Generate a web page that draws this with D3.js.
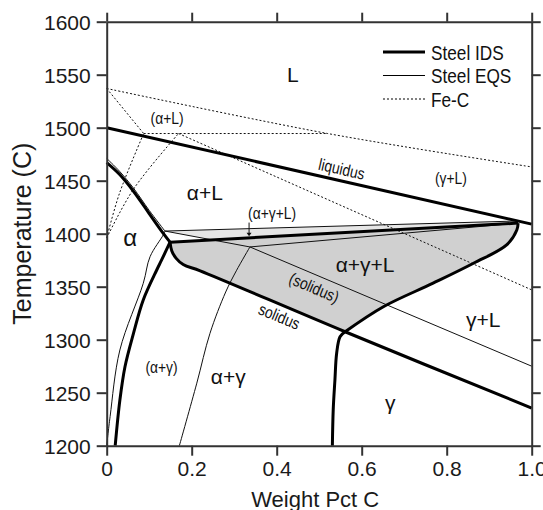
<!DOCTYPE html>
<html><head><meta charset="utf-8">
<script src="https://cdn.jsdelivr.net/npm/d3@7"></script>
<style>
html,body{margin:0;padding:0;background:#fff;}
svg{display:block;font-family:"Liberation Sans",Arial,Helvetica,sans-serif;}
</style></head>
<body>
<svg id="chart" width="543" height="510"></svg>
<script>
// ---- axis ticks ----
const xTicks = [0, 0.2, 0.4, 0.6, 0.8, 1.0];
const xTickLabels = ["0", "0.2", "0.4", "0.6", "0.8", "1.0"];
const yTicks = [1200, 1250, 1300, 1350, 1400, 1450, 1500, 1550, 1600];

// ---- Steel IDS (thick) [wt% C, temperature C] ----
const idsLiquidus = [[0, 1500], [1.0, 1409]];
const idsAlphaSolidus = [[0, 1467], [0.03, 1456], [0.063, 1440], [0.1, 1419], [0.13, 1402], [0.149, 1392]];
const idsAlphaBoundary = [[0.149, 1392], [0.129, 1375], [0.118, 1366], [0.086, 1337.5], [0.063, 1306], [0.043, 1274.5], [0.031, 1243], [0.02, 1200]];
const idsPeritectic = [[0.149, 1392], [0.968, 1410]];
const idsGammaLiquidus = [[0.968, 1410], [0.965, 1403.5], [0.941, 1389.4], [0.863, 1372.1], [0.768, 1353.3], [0.651, 1331.1], [0.561, 1307.5]];
const idsSolidus = [[0.149, 1392], [0.153, 1384], [0.163, 1377], [0.18, 1371], [0.22, 1365], [0.561, 1307.5], [1.0, 1235.5]];
const idsGammaBoundary = [[0.561, 1307.5], [0.549, 1302.8], [0.541, 1287], [0.537, 1262], [0.533, 1234], [0.531, 1200]];

// ---- Steel EQS (thin) ----
const eqsAlphaSolidus = [[0, 1471], [0.03, 1459], [0.063, 1443], [0.1, 1422], [0.137, 1402.5]];
const eqsPeritectic = [[0.137, 1402.5], [0.968, 1412]];
const eqsLower = [[0.137, 1402.5], [0.337, 1387.5], [0.968, 1410]];
const eqsAlphaBoundary = [[0.137, 1402.5], [0.133, 1398.8], [0.102, 1378.3], [0.086, 1353.2], [0.031, 1290.3], [0.008, 1227.4], [0, 1200]];
const eqsSolidus = [[0.337, 1387.5], [1.0, 1275]];
const eqsGammaBoundary = [[0.337, 1387.5], [0.305, 1365], [0.28, 1345], [0.243, 1306], [0.212, 1259], [0.171, 1200]];

// ---- Fe-C (dotted) ----
const fecLiquidus = [[0, 1537], [0.52, 1494.5], [1.0, 1463]];
const fecDeltaSolidus = [[0, 1537], [0.087, 1494.5]];
const fecPeritectic = [[0.087, 1494.5], [0.52, 1494.5]];
const fecDeltaBoundary = [[0, 1396], [0.03, 1438], [0.087, 1494.5]];
const fecGammaBoundary = [[0, 1396], [0.063, 1442], [0.169, 1494.5]];
const fecGammaSolidus = [[0.169, 1494.5], [1.0, 1347]];

// ---- region labels ----
const labelText = ["L", "(α+L)", "α+L", "(α+γ+L)", "α", "liquidus", "(γ+L)", "α+γ+L", "(solidus)", "solidus", "γ+L", "(α+γ)", "α+γ", "γ"];
const labelC    = [0.438, 0.142, 0.231, 0.389, 0.055, 0.553, 0.810, 0.608, 0.488, 0.406, 0.886, 0.129, 0.286, 0.667];
const labelT    = [1549.7, 1509, 1438.4, 1419.5, 1396, 1461, 1452.6, 1370.5, 1349, 1322, 1318.6, 1274.5, 1265, 1240.3];
const labelKind = ["big", "small", "big", "small", "big", "small", "small", "big", "small", "small", "big", "small", "big", "big"];
const labelAngle = [0, 0, 0, 0, 0, 12.8, 0, 0, 23.1, 22.5, 0, 0, 0, 0];

const legendNames = ["Steel IDS", "Steel EQS", "Fe-C"];

// ---- layout ----
const margin = {left: 106.7, top: 21.7, right: 11.3, bottom: 64.3};
const W = 543, H = 510;
const iw = W - margin.left - margin.right, ih = H - margin.top - margin.bottom;

const svg = d3.select("#chart");
const g = svg.append("g").attr("transform", `translate(${margin.left},${margin.top})`);

const x = d3.scaleLinear().domain([0, 1.0]).range([0, iw]);
const y = d3.scaleLinear().domain([1200, 1600]).range([ih, 0]);

const line = d3.line().x(d => x(d[0])).y(d => y(d[1])).curve(d3.curveCatmullRom.alpha(0.5));
const lineLin = d3.line().x(d => x(d[0])).y(d => y(d[1]));

// fills
const eqsRegion = [eqsPeritectic[0], eqsPeritectic[1], eqsLower[2], eqsLower[1]];
g.append("path").attr("d", lineLin(eqsRegion) + "Z").attr("fill", "#e6e6e6");

const idsFillPath = line(idsPeritectic) + line(idsGammaLiquidus).replace(/^M/, "L") + line(idsSolidus.slice().reverse()).replace(/^M/, "L") + "Z";
g.append("path").attr("d", idsFillPath).attr("fill", "#d0d0d0");

// Fe-C dotted
const dotted = [fecLiquidus, fecDeltaSolidus, fecPeritectic, fecDeltaBoundary, fecGammaBoundary, fecGammaSolidus];
g.selectAll(".fec").data(dotted).join("path").attr("class", "fec")
  .attr("d", line).attr("fill", "none").attr("stroke", "#111").attr("stroke-width", 1)
  .attr("stroke-dasharray", "2,2");

// EQS thin
const thin = [eqsAlphaSolidus, eqsPeritectic, eqsLower, eqsAlphaBoundary, eqsSolidus, eqsGammaBoundary];
g.selectAll(".eqs").data(thin).join("path").attr("class", "eqs")
  .attr("d", d => d === eqsLower ? lineLin(d) : line(d)).attr("fill", "none").attr("stroke", "#111").attr("stroke-width", 1);

// IDS thick
const thick = [idsLiquidus, idsAlphaSolidus, idsAlphaBoundary, idsPeritectic, idsGammaLiquidus, idsSolidus, idsGammaBoundary];
g.selectAll(".ids").data(thick).join("path").attr("class", "ids")
  .attr("d", line).attr("fill", "none").attr("stroke", "#000").attr("stroke-width", 3)
  .attr("stroke-linejoin", "round").attr("stroke-linecap", "butt");

// axes
const axisColor = "#333";
function styleAxis(sel) {
  sel.select(".domain").attr("stroke", axisColor).attr("stroke-width", 2);
  sel.selectAll(".tick line").attr("stroke", axisColor).attr("stroke-width", 2);
  sel.selectAll(".tick text").attr("fill", "#1a1a1a").attr("font-size", 21)
     .attr("font-family", "'Liberation Sans',Arial,sans-serif");
}
const xAxis = g.append("g").attr("transform", `translate(0,${ih})`)
  .call(d3.axisBottom(x).tickValues(xTicks).tickFormat((d, i) => xTickLabels[i]).tickSize(10).tickSizeOuter(0).tickPadding(5));
styleAxis(xAxis);
const xTop = g.append("g")
  .call(d3.axisTop(x).tickValues(xTicks).tickFormat("").tickSize(9).tickSizeOuter(0));
styleAxis(xTop);
const yAxis = g.append("g")
  .call(d3.axisLeft(y).tickValues(yTicks).tickFormat(d3.format("d")).tickSize(10).tickSizeOuter(0).tickPadding(6));
styleAxis(yAxis);
yAxis.selectAll(".tick text").attr("dy", "0.36em");
const yRight = g.append("g").attr("transform", `translate(${iw},0)`)
  .call(d3.axisRight(y).tickValues(yTicks).tickFormat("").tickSize(9).tickSizeOuter(0));
styleAxis(yRight);

// axis titles
svg.append("text").attr("x", margin.left + iw / 2 - 4).attr("y", 507)
  .attr("text-anchor", "middle").attr("font-size", 22).attr("fill", "#1a1a1a").text("Weight Pct C");
svg.append("text").attr("transform", `translate(31,${margin.top + ih / 2}) rotate(-90)`)
  .attr("text-anchor", "middle").attr("font-size", 25).attr("fill", "#1a1a1a").text("Temperature (C)");

// labels
labelText.forEach((t, i) => {
  const px = x(labelC[i]), py = y(labelT[i]);
  const big = labelKind[i] === "big";
  const sx = big ? 1 : 0.84;
  const fs = big ? (t === "α" ? 24 : 21) : 16.5;
  g.append("text")
    .attr("transform", `translate(${px},${py}) rotate(${labelAngle[i]}) scale(${sx},1)`)
    .attr("text-anchor", "middle").attr("dy", "0.35em")
    .attr("font-size", fs).attr("fill", "#111").text(t);
});

// arrow for (α+γ+L)
const arrowC = 0.335;
g.append("line").attr("x1", x(arrowC)).attr("x2", x(arrowC)).attr("y1", y(1410.5)).attr("y2", y(1399))
  .attr("stroke", "#111").attr("stroke-width", 1);
g.append("path").attr("d", `M${x(arrowC) - 2.5},${y(1401)}L${x(arrowC) + 2.5},${y(1401)}L${x(arrowC)},${y(1397.5)}Z`).attr("fill", "#111");

// legend
const legX = 383 - margin.left, legY0 = 52 - margin.top, legDy = 23.5;
const legWidths = [3, 1, 1];
const legDash = [null, null, "2,2"];
legendNames.forEach((n, i) => {
  const yy = legY0 + i * legDy;
  g.append("line").attr("x1", legX).attr("x2", legX + 42).attr("y1", yy).attr("y2", yy)
    .attr("stroke", "#000").attr("stroke-width", legWidths[i]).attr("stroke-dasharray", legDash[i]);
  g.append("text").attr("transform", `translate(${legX + 48},${yy}) scale(0.82,1)`)
    .attr("dy", "0.36em").attr("font-size", 21).attr("fill", "#111").text(n);
});
</script>
</body></html>
